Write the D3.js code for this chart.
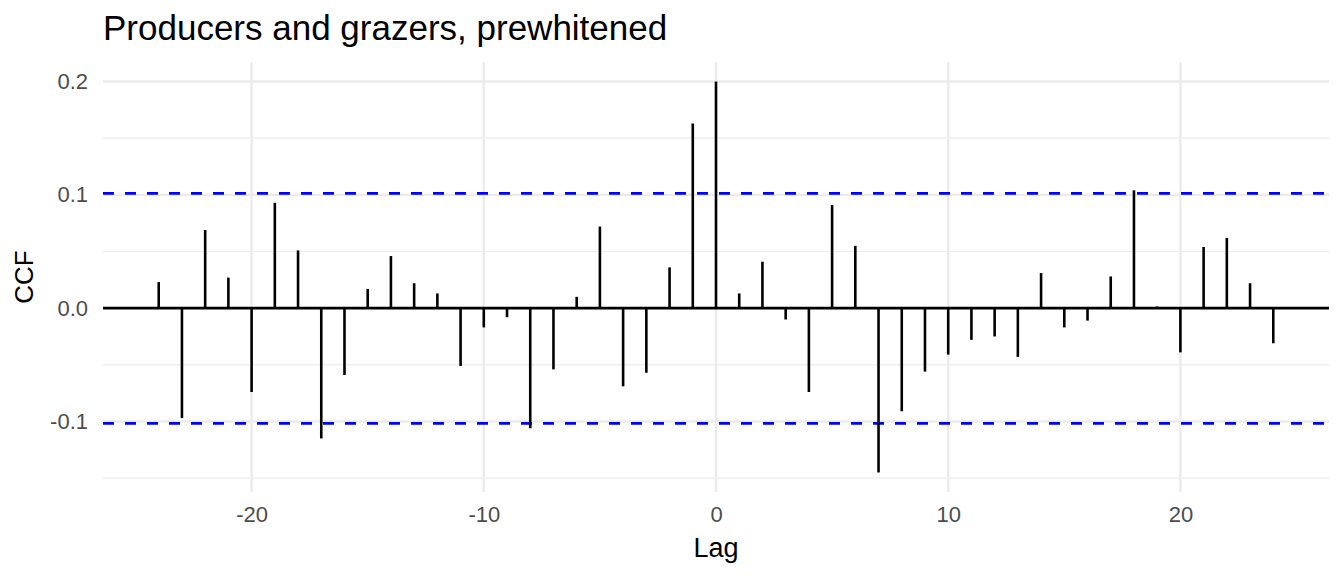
<!DOCTYPE html>
<html>
<head>
<meta charset="utf-8">
<script src="https://cdn.jsdelivr.net/npm/d3@7"></script>
<style>
  body { margin: 0; background: #fff; }
  text { font-family: "Liberation Sans", Arial, sans-serif; }
</style>
</head>
<body>
<div id="ccf-plot"></div>
<script>
// lags and cross-correlations
const lags = d3.range(-24, 25);
const ccf = [
  0.023, -0.097, 0.069, 0.027, -0.074, 0.093, 0.051, -0.115, -0.059, 0.017,
  0.046, 0.022, 0.013, -0.051, -0.017, -0.008, -0.106, -0.054, 0.010, 0.072,
  -0.069, -0.057, 0.036, 0.163, 0.200, 0.013, 0.041, -0.010, -0.074, 0.091,
  0.055, -0.145, -0.091, -0.056, -0.041, -0.028, -0.025, -0.043, 0.031, -0.017,
  -0.011, 0.028, 0.104, 0.0015, -0.039, 0.054, 0.062, 0.022, -0.031
];
const ciBounds = [0.1013, -0.1017];
const xTicks = [-20, -10, 0, 10, 20];
const yTicks = [-0.1, 0.0, 0.1, 0.2];
const yMinor = [-0.15, -0.05, 0.05, 0.15];

const width = 1344, height = 576;
const margin = { top: 62, right: 15, bottom: 84, left: 103 };
const pw = width - margin.left - margin.right;
const ph = height - margin.top - margin.bottom;

const svg = d3.select("#ccf-plot")
  .append("svg")
  .attr("width", width)
  .attr("height", height);

// ggplot style 5% expansion
const xr = d3.extent(lags), xpad = (xr[1] - xr[0]) * 0.05;
const yr = d3.extent(ccf.concat(ciBounds)), ypad = (yr[1] - yr[0]) * 0.05;

const x = d3.scaleLinear()
  .domain([xr[0] - xpad, xr[1] + xpad])
  .range([0, pw]);

const y = d3.scaleLinear()
  .domain([yr[0] - ypad, yr[1] + ypad])
  .range([ph, 0]);

// plain hyphen for negatives, like R
const hy = f => d => f(d).replace("\u2212", "-");

const g = svg.append("g")
  .attr("transform", `translate(${margin.left},${margin.top})`);

// grid
g.selectAll(".minor").data(yMinor).enter().append("line")
  .attr("x1", 0).attr("x2", pw)
  .attr("y1", d => y(d)).attr("y2", d => y(d))
  .attr("stroke", "#ebebeb").attr("stroke-width", 1.2);

g.selectAll(".hmajor").data(yTicks).enter().append("line")
  .attr("x1", 0).attr("x2", pw)
  .attr("y1", d => y(d)).attr("y2", d => y(d))
  .attr("stroke", "#ebebeb").attr("stroke-width", 2.4);

g.selectAll(".vmajor").data(xTicks).enter().append("line")
  .attr("x1", d => x(d)).attr("x2", d => x(d))
  .attr("y1", 0).attr("y2", ph)
  .attr("stroke", "#ebebeb").attr("stroke-width", 2.4);

// zero line
g.append("line")
  .attr("x1", 0).attr("x2", pw)
  .attr("y1", y(0)).attr("y2", y(0))
  .attr("stroke", "#000").attr("stroke-width", 2.6);

// confidence bounds
g.selectAll(".ci").data(ciBounds).enter().append("line")
  .attr("x1", 0).attr("x2", pw)
  .attr("y1", d => y(d)).attr("y2", d => y(d))
  .attr("stroke", "#0000ff").attr("stroke-width", 2.6)
  .attr("stroke-dasharray", "11,11");

// spikes
g.selectAll(".spike").data(lags).enter().append("line")
  .attr("x1", d => x(d)).attr("x2", d => x(d))
  .attr("y1", y(0)).attr("y2", (d, i) => y(ccf[i]))
  .attr("stroke", "#000").attr("stroke-width", 2.6);

// axes (text only, theme_minimal has no axis lines)
const xAxis = g.append("g")
  .attr("transform", `translate(0,${ph})`)
  .call(d3.axisBottom(x).tickValues(xTicks).tickSize(0).tickPadding(14).tickFormat(hy(d3.format("d"))));
xAxis.select(".domain").remove();
xAxis.selectAll("text").attr("font-size", 22).attr("fill", "#4d4d4d")
  .style("font-family", "'Liberation Sans', Arial, sans-serif");

const yAxis = g.append("g")
  .call(d3.axisLeft(y).tickValues(yTicks).tickSize(0).tickPadding(15).tickFormat(hy(d3.format(".1f"))));
yAxis.select(".domain").remove();
yAxis.selectAll("text").attr("font-size", 22).attr("fill", "#4d4d4d")
  .style("font-family", "'Liberation Sans', Arial, sans-serif");

// titles
svg.append("text")
  .attr("x", margin.left).attr("y", 40)
  .attr("font-size", 35)
  .attr("fill", "#000")
  .text("Producers and grazers, prewhitened");

svg.append("text")
  .attr("x", margin.left + pw / 2).attr("y", 557)
  .attr("text-anchor", "middle")
  .attr("font-size", 27)
  .text("Lag");

svg.append("text")
  .attr("transform", `translate(33,${margin.top + ph / 2}) rotate(-90)`)
  .attr("text-anchor", "middle")
  .attr("font-size", 26)
  .text("CCF");
</script>
</body>
</html>
